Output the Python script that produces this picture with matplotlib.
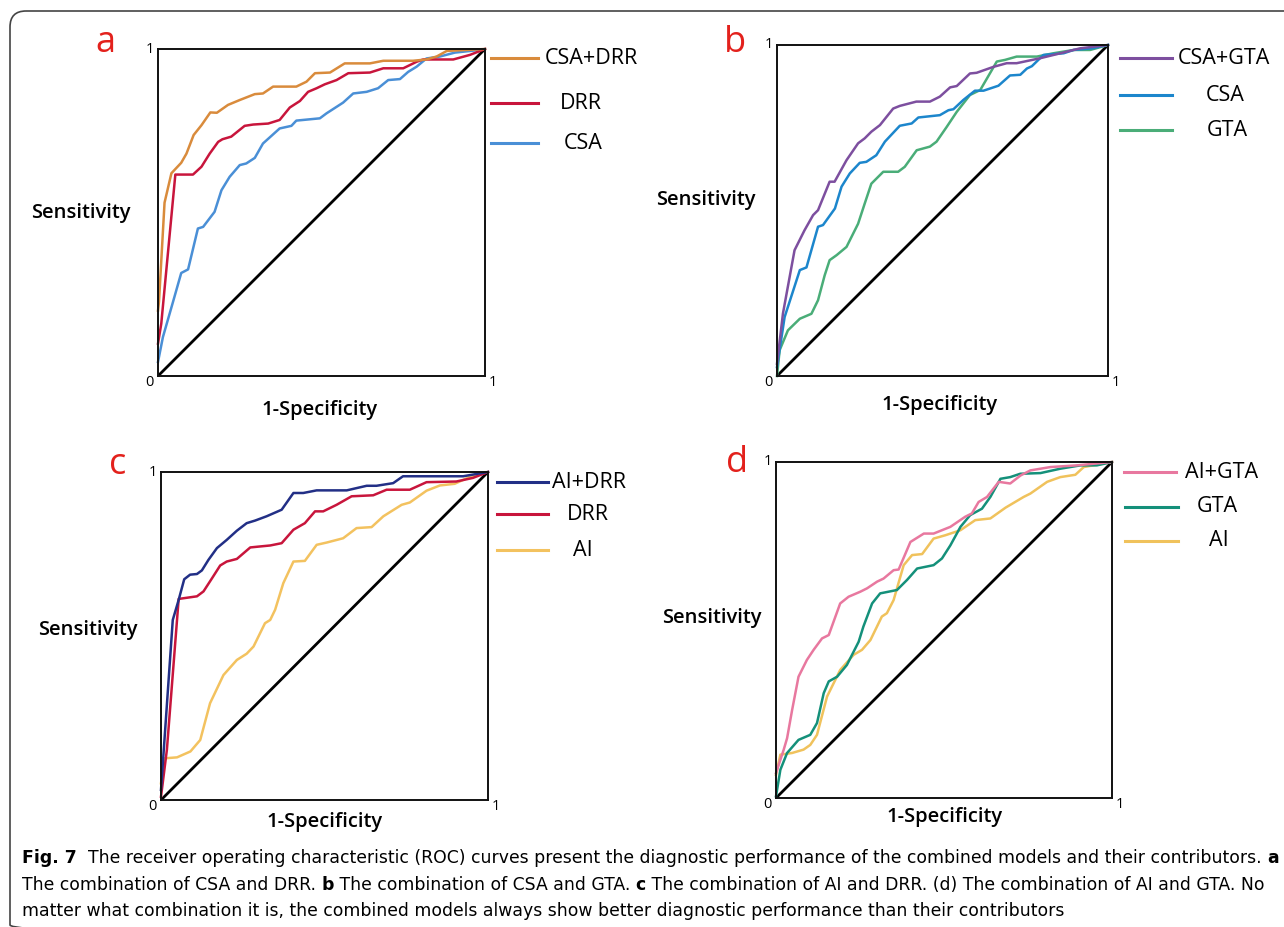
import matplotlib
matplotlib.use("Agg")
import matplotlib.pyplot as plt
from matplotlib.lines import Line2D
from matplotlib.patches import FancyBboxPatch

plt.rcParams['font.family'] = ['Open Sans', 'DejaVu Sans']

# ---- panel a : CSA + DRR ----
a_csa_drr_fpr = [0, 0.003, 0.02, 0.041, 0.071, 0.087, 0.109, 0.133, 0.16, 0.18, 0.214, 0.25, 0.296, 0.321, 0.352, 0.423,
                 0.454, 0.48, 0.526, 0.571, 0.648, 0.689, 0.78, 0.821, 0.852, 0.883, 1]
a_csa_drr_tpr = [0.2, 0.227, 0.53, 0.62, 0.652, 0.68, 0.737, 0.767, 0.806, 0.805, 0.829, 0.844, 0.862, 0.864, 0.885, 0.885,
                 0.90, 0.926, 0.928, 0.956, 0.956, 0.964, 0.964, 0.968, 0.977, 0.994, 1]
a_drr_fpr = [0, 0.01, 0.053, 0.107, 0.133, 0.158, 0.184, 0.197, 0.224, 0.265, 0.291, 0.337, 0.372, 0.403, 0.434, 0.459,
             0.485, 0.51, 0.546, 0.582, 0.648, 0.689, 0.75, 0.791, 0.811, 0.903, 0.954, 1]
a_drr_tpr = [0.099, 0.16, 0.616, 0.616, 0.64, 0.68, 0.716, 0.724, 0.732, 0.765, 0.769, 0.772, 0.783, 0.821, 0.841, 0.869,
             0.88, 0.892, 0.905, 0.926, 0.928, 0.941, 0.941, 0.961, 0.968, 0.968, 0.982, 1]
a_csa_fpr = [0, 0.015, 0.046, 0.071, 0.092, 0.122, 0.138, 0.173, 0.194, 0.219, 0.25, 0.27, 0.296, 0.321, 0.372, 0.408,
             0.423, 0.495, 0.515, 0.566, 0.597, 0.638, 0.673, 0.704, 0.74, 0.765, 0.791, 0.821, 0.862, 0.908, 0.964, 1]
a_csa_tpr = [0.043, 0.119, 0.227, 0.315, 0.326, 0.451, 0.456, 0.502, 0.568, 0.609, 0.645, 0.65, 0.667, 0.711, 0.757, 0.765,
             0.781, 0.788, 0.803, 0.836, 0.864, 0.869, 0.88, 0.905, 0.908, 0.93, 0.946, 0.971, 0.977, 0.989, 0.995, 1]

# ---- panel b : CSA + GTA ----
b_csa_gta_fpr = [0, 0.018, 0.053, 0.083, 0.109, 0.124, 0.159, 0.174, 0.21, 0.245, 0.265, 0.285, 0.311, 0.351, 0.371, 0.421,
                 0.462, 0.492, 0.523, 0.543, 0.583, 0.603, 0.654, 0.694, 0.724, 0.795, 0.856, 0.916, 1]
b_csa_gta_tpr = [0.037, 0.189, 0.38, 0.44, 0.486, 0.501, 0.587, 0.587, 0.652, 0.703, 0.718, 0.738, 0.758, 0.808, 0.816, 0.829,
                 0.829, 0.844, 0.872, 0.876, 0.914, 0.916, 0.934, 0.945, 0.945, 0.96, 0.975, 0.99, 1]
b_csa_fpr = [0, 0.023, 0.069, 0.089, 0.124, 0.139, 0.175, 0.195, 0.22, 0.25, 0.27, 0.3, 0.326, 0.371, 0.407, 0.427, 0.492,
             0.518, 0.533, 0.563, 0.598, 0.624, 0.669, 0.704, 0.735, 0.755, 0.77, 0.805, 0.866, 0.896, 0.952, 1]
b_csa_tpr = [0.027, 0.178, 0.32, 0.328, 0.451, 0.456, 0.506, 0.572, 0.612, 0.644, 0.647, 0.667, 0.708, 0.756, 0.763, 0.781,
             0.788, 0.803, 0.806, 0.834, 0.862, 0.862, 0.877, 0.908, 0.91, 0.929, 0.936, 0.97, 0.975, 0.985, 0.99, 1]
b_gta_fpr = [0, 0.008, 0.033, 0.069, 0.104, 0.124, 0.144, 0.159, 0.18, 0.21, 0.245, 0.265, 0.285, 0.321, 0.366, 0.386,
             0.422, 0.462, 0.482, 0.513, 0.543, 0.583, 0.614, 0.664, 0.689, 0.724, 0.785, 0.835, 0.896, 0.946, 1]
b_gta_tpr = [0, 0.078, 0.138, 0.173, 0.188, 0.229, 0.304, 0.35, 0.365, 0.39, 0.46, 0.521, 0.581, 0.617, 0.617, 0.632,
             0.682, 0.693, 0.708, 0.753, 0.798, 0.849, 0.864, 0.95, 0.955, 0.965, 0.965, 0.975, 0.985, 0.985, 1]

# ---- panel c : AI + DRR ----
c_ai_drr_fpr = [0, 0.036, 0.054, 0.071, 0.089, 0.11, 0.125, 0.145, 0.171, 0.201, 0.232, 0.262, 0.288, 0.323, 0.369, 0.405,
                0.435, 0.476, 0.568, 0.629, 0.659, 0.71, 0.74, 0.924, 1]
c_ai_drr_tpr = [0.031, 0.549, 0.61, 0.673, 0.687, 0.689, 0.7, 0.732, 0.768, 0.793, 0.821, 0.844, 0.852, 0.865, 0.885, 0.936,
                0.936, 0.944, 0.944, 0.958, 0.958, 0.966, 0.987, 0.987, 1]
c_drr_fpr = [0, 0.018, 0.054, 0.11, 0.13, 0.156, 0.181, 0.201, 0.232, 0.273, 0.303, 0.334, 0.369, 0.405, 0.44, 0.471,
             0.496, 0.537, 0.583, 0.649, 0.69, 0.761, 0.812, 0.903, 0.954, 1]
c_drr_tpr = [0.01, 0.153, 0.613, 0.621, 0.636, 0.676, 0.715, 0.727, 0.735, 0.77, 0.773, 0.776, 0.783, 0.824, 0.844, 0.88,
             0.88, 0.9, 0.926, 0.929, 0.946, 0.946, 0.969, 0.971, 0.982, 1]
c_ai_fpr = [0, 0.01, 0.049, 0.09, 0.12, 0.15, 0.191, 0.232, 0.262, 0.283, 0.318, 0.334, 0.349, 0.374, 0.405, 0.44, 0.476,
            0.507, 0.557, 0.598, 0.644, 0.68, 0.736, 0.761, 0.812, 0.853, 0.898, 0.944, 1]
c_ai_tpr = [0.051, 0.127, 0.13, 0.148, 0.183, 0.295, 0.381, 0.427, 0.446, 0.468, 0.539, 0.549, 0.58, 0.661, 0.727, 0.729,
            0.778, 0.785, 0.798, 0.829, 0.832, 0.865, 0.9, 0.907, 0.943, 0.959, 0.964, 0.985, 1]

# ---- panel d : AI + GTA ----
d_ai_gta_fpr = [0, 0.023, 0.033, 0.048, 0.067, 0.092, 0.112, 0.137, 0.157, 0.191, 0.216, 0.251, 0.271, 0.301, 0.32, 0.35,
                0.365, 0.4, 0.44, 0.469, 0.519, 0.563, 0.583, 0.603, 0.628, 0.663, 0.697, 0.728, 0.757, 0.817, 0.896, 1]
d_ai_gta_tpr = [0.074, 0.144, 0.178, 0.262, 0.361, 0.411, 0.441, 0.475, 0.485, 0.579, 0.599, 0.614, 0.624, 0.644, 0.653,
                0.678, 0.68, 0.762, 0.787, 0.787, 0.807, 0.837, 0.847, 0.881, 0.896, 0.941, 0.936, 0.96, 0.975, 0.985,
                0.99, 1]
d_gta_fpr = [0, 0.013, 0.033, 0.067, 0.102, 0.122, 0.142, 0.157, 0.182, 0.211, 0.246, 0.26, 0.286, 0.31, 0.36, 0.39, 0.42,
             0.469, 0.494, 0.519, 0.549, 0.578, 0.613, 0.638, 0.668, 0.697, 0.727, 0.787, 0.846, 0.906, 0.955, 1]
d_gta_tpr = [0.005, 0.084, 0.134, 0.173, 0.188, 0.223, 0.312, 0.347, 0.361, 0.396, 0.465, 0.51, 0.579, 0.609, 0.619, 0.649,
             0.683, 0.693, 0.713, 0.752, 0.807, 0.842, 0.861, 0.896, 0.95, 0.955, 0.965, 0.967, 0.98, 0.99, 0.99, 1]
d_ai_fpr = [0, 0.013, 0.048, 0.082, 0.102, 0.122, 0.152, 0.191, 0.231, 0.256, 0.281, 0.315, 0.33, 0.35, 0.38, 0.405, 0.435,
            0.469, 0.504, 0.549, 0.593, 0.638, 0.683, 0.737, 0.757, 0.807, 0.846, 0.891, 0.916, 1]
d_ai_tpr = [0.069, 0.129, 0.134, 0.144, 0.158, 0.188, 0.302, 0.381, 0.426, 0.441, 0.47, 0.54, 0.55, 0.589, 0.693, 0.723,
            0.726, 0.772, 0.782, 0.797, 0.827, 0.832, 0.864, 0.896, 0.906, 0.941, 0.955, 0.962, 0.985, 1]

panel_letters = ['a', 'b', 'c', 'd']
legend_labels = [['CSA+DRR', 'DRR', 'CSA'],
                 ['CSA+GTA', 'CSA', 'GTA'],
                 ['AI+DRR', 'DRR', 'AI'],
                 ['AI+GTA', 'GTA', 'AI']]
curves = [[(a_csa_drr_fpr, a_csa_drr_tpr), (a_drr_fpr, a_drr_tpr), (a_csa_fpr, a_csa_tpr)],
          [(b_csa_gta_fpr, b_csa_gta_tpr), (b_csa_fpr, b_csa_tpr), (b_gta_fpr, b_gta_tpr)],
          [(c_ai_drr_fpr, c_ai_drr_tpr), (c_drr_fpr, c_drr_tpr), (c_ai_fpr, c_ai_tpr)],
          [(d_ai_gta_fpr, d_ai_gta_tpr), (d_gta_fpr, d_gta_tpr), (d_ai_fpr, d_ai_tpr)]]
colors = [['#d98b3c', '#c8153c', '#4a8fd6'],
          ['#7d4f9f', '#1c86cc', '#4aad78'],
          ['#222f86', '#c8153c', '#f3c25f'],
          ['#e8789f', '#14907a', '#f0c25c']]

W, H = 1284, 927

# pixel boxes of the four plots: left, top, right, bottom
boxes = [(158, 49, 485, 376), (777, 45, 1108, 376), (161, 472, 488, 800), (776, 462, 1112, 798)]
letter_pos = [(105, 43), (735, 43), (118, 465), (737, 463)]
sens_pos = [(81, 213), (706, 200), (88, 630), (712, 618)]
spec_pos = [(320, 410), (940, 405), (325, 822), (945, 817)]
# legend entries: line start, line end, y, text left edge
leg_pos = [[(491, 538, 58, 545), (491, 538, 103, 560), (491, 538, 143, 564)],
           [(1120, 1172, 58, 1178), (1120, 1172, 95, 1206), (1120, 1172, 130, 1207)],
           [(497, 548, 482, 552), (497, 548, 514, 567), (497, 548, 550, 573)],
           [(1124, 1176, 472, 1185), (1125, 1178, 507, 1197), (1125, 1178, 541, 1209)]]

fig = plt.figure(figsize=(W / 100, H / 100), dpi=100)
ov = fig.add_axes([0, 0, 1, 1])
ov.set_xlim(0, W)
ov.set_ylim(H, 0)
ov.axis('off')

# outer rounded frame (cut off at right and bottom)
ov.add_patch(FancyBboxPatch((10, 11), 1400, 930, boxstyle='round,pad=0,rounding_size=16',
                            fill=False, edgecolor='#444444', linewidth=1.2))

for i in range(4):
    l, t, r, b = boxes[i]
    ax = fig.add_axes([l / W, 1 - b / H, (r - l) / W, (b - t) / H])
    ax.set_facecolor('none')
    ax.set_xlim(0, 1)
    ax.set_ylim(0, 1)
    ax.set_xticks([])
    ax.set_yticks([])
    for s in ax.spines.values():
        s.set_linewidth(1.4)
        s.set_color('#111111')
    ax.plot([0, 1], [0, 1], color='black', lw=2.0)
    for (x, y), c in zip(curves[i][::-1], colors[i][::-1]):
        ax.plot(x, y, color=c, lw=1.8, clip_on=False)
    ax.text(-0.012, 1.0, '1', transform=ax.transAxes, ha='right', va='center', fontsize=10.5)
    ax.text(-0.012, -0.02, '0', transform=ax.transAxes, ha='right', va='center', fontsize=10.5)
    ax.text(1.012, -0.02, '1', transform=ax.transAxes, ha='left', va='center', fontsize=10.5)

    ov.text(*letter_pos[i], panel_letters[i], color='#e3211c', fontsize=26, ha='center', va='center')
    ov.text(*sens_pos[i], 'Sensitivity', fontsize=14.5, fontweight='semibold', ha='center', va='center')
    ov.text(*spec_pos[i], '1-Specificity', fontsize=14.5, fontweight='semibold', ha='center', va='center')
    for lab, c, (x0, x1, y, tx) in zip(legend_labels[i], colors[i], leg_pos[i]):
        ov.add_line(Line2D([x0, x1], [y, y], color=c, lw=2.2))
        ov.text(tx, y, lab, fontsize=15.5, ha='left', va='center')

# caption, drawn piece by piece so bold parts sit inline
cap_font = ['Liberation Sans Narrow', 'DejaVu Sans']
caption_lines = [
    [('Fig. 7', 'bold'), ('  The receiver operating characteristic (ROC) curves present the diagnostic performance '
                          'of the combined models and their contributors. ', 'normal'), ('a', 'bold')],
    [('The combination of CSA and DRR. ', 'normal'), ('b', 'bold'), (' The combination of CSA and GTA. ', 'normal'),
     ('c', 'bold'), (' The combination of AI and DRR. (d) The combination of AI and GTA. No', 'normal')],
    [('matter what combination it is, the combined models always show better diagnostic performance than their '
      'contributors', 'normal')],
]
caption_y = [858, 885, 911]
renderer = fig.canvas.get_renderer()


def text_width(s, size, weight):
    # width of a string in pixels, spaces counted via a marker trick
    t = ov.text(0, 0, '|' + s + '|', fontsize=size, fontweight=weight, family=cap_font)
    w = t.get_window_extent(renderer).width
    t.remove()
    t = ov.text(0, 0, '||', fontsize=size, fontweight=weight, family=cap_font)
    w0 = t.get_window_extent(renderer).width
    t.remove()
    return w - w0


base = 12.0
w1 = sum(text_width(s, base, wt) for s, wt in caption_lines[0])
cap_size = base * (1268 - 22) / w1

for line, y in zip(caption_lines, caption_y):
    x = 22
    for s, wt in line:
        ov.text(x, y, s, fontsize=cap_size, fontweight=wt, family=cap_font, ha='left', va='center')
        x += text_width(s, cap_size, wt)

fig.savefig('out.png', dpi=100, facecolor='white')
